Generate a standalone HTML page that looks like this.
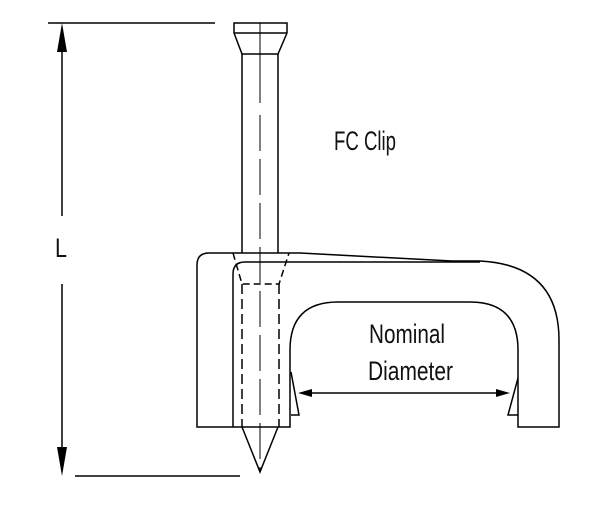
<!DOCTYPE html>
<html><head><style>body{margin:0;background:#fff}svg{display:block}</style></head><body>
<svg width="600" height="522" viewBox="0 0 600 522" xmlns="http://www.w3.org/2000/svg" font-family="'Liberation Sans Narrow','Liberation Sans',sans-serif">
<g fill="none" stroke="#000" stroke-width="1.5">
<line x1="48" y1="23" x2="215" y2="23"/>
<line x1="75" y1="476" x2="240" y2="476"/>
<line x1="62" y1="40" x2="62" y2="216"/>
<line x1="62" y1="284" x2="62" y2="460"/>
<path d="M234 23 H287 V33 L278 54 H242 L234 33 Z M234 33 H287"/>
<line x1="242" y1="54" x2="242" y2="253"/>
<line x1="278" y1="54" x2="278" y2="253"/>
<line x1="260" y1="23" x2="260" y2="103" stroke-width="1"/>
<line x1="260" y1="115" x2="260" y2="472" stroke-width="1" stroke-dasharray="36,8"/>
<path d="M197 427 V265 Q197 253 209 253 H300 L452 261 H480 Q559 265 559 340 V427 H518 V350 Q518 302 470 302 H338 Q290 302 290 350 V427 Z"/>
<path d="M233 427 V274 Q233 262 245 262 H480"/>
<path d="M233 253 L242 284 H279 L289 253" stroke-dasharray="7,4"/>
<line x1="242" y1="284" x2="242" y2="427" stroke-dasharray="10,5"/>
<line x1="279" y1="284" x2="279" y2="427" stroke-dasharray="10,5"/>
<path d="M242 427 L260 472 L278 427"/>
<path d="M291 372 L299 415 H291"/>
<path d="M518 378 L508 415 H518"/>
<line x1="306" y1="393" x2="502" y2="393"/>
</g>
<g fill="#000">
<polygon points="62,23 57,52 67,52"/>
<polygon points="62,476 57,447 67,447"/>
<polygon points="298,393 312,389 312,397"/>
<polygon points="510,393 496,389 496,397"/>
</g>
<g font-size="27" fill="#111">
<text x="334" y="150" textLength="62" lengthAdjust="spacingAndGlyphs">FC Clip</text>
<text x="55" y="257" textLength="12" lengthAdjust="spacingAndGlyphs">L</text>
<text x="369" y="343" textLength="76" lengthAdjust="spacingAndGlyphs">Nominal</text>
<text x="368" y="380" textLength="85" lengthAdjust="spacingAndGlyphs">Diameter</text>
</g>
</svg>
</body></html>
